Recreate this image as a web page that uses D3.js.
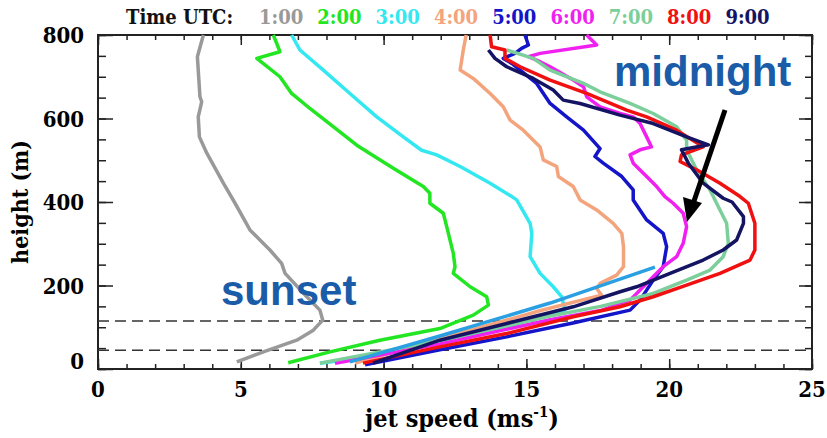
<!DOCTYPE html>
<html>
<head>
<meta charset="utf-8">
<script src="https://cdn.jsdelivr.net/npm/d3@7"></script>
<style>
body { margin: 0; background: #fff; }
svg { display: block; }
.tick-label { font-family: "DejaVu Serif Condensed", "DejaVu Serif", serif; font-stretch: condensed; font-weight: bold; }
</style>
</head>
<body>
<svg id="chart" width="827" height="438"></svg>
<script>
// profiles: [speed (m/s), height (m)]
var times = ["1:00", "2:00", "3:00", "4:00", "5:00", "6:00", "7:00", "8:00", "9:00"];
var colors = ["#999999", "#22e622", "#33e8f0", "#f4a47c", "#1414c8", "#f020f0", "#7ccf9a", "#f01010", "#141463"];

var p1 = [[3.69,800],[3.48,748],[3.57,652],[3.63,640],[3.51,604],[3.55,556],[3.81,517],[4.39,445],[4.80,397],[5.32,333],[6.02,285],[6.43,253],[6.55,229],[7.31,173],[7.77,141],[7.87,117],[7.54,93],[6.96,69],[5.79,41],[4.86,17]];
var p2 = [[6.14,800],[6.37,760],[5.56,744],[6.37,700],[6.78,660],[7.42,624],[8.47,568],[9.06,536],[10.34,481],[11.39,437],[11.62,421],[11.62,397],[12.09,373],[12.21,341],[12.44,277],[12.50,245],[12.44,229],[13.03,197],[13.61,173],[13.67,153],[13.14,129],[11.97,97],[9.87,69],[8.12,41],[6.66,15]];
var p3 = [[6.78,800],[7.07,764],[7.89,716],[8.82,660],[9.76,604],[10.69,556],[11.33,524],[11.86,513],[12.68,485],[13.73,445],[14.49,413],[14.66,405],[15.13,349],[15.19,325],[15.13,269],[15.48,229],[15.94,197],[16.24,173],[16.35,141],[14.3,100],[11.97,62],[9.6,30],[7.77,14]];
var p4 = [[12.89,800],[12.79,764],[12.68,716],[13.14,696],[13.73,660],[14.19,628],[14.43,596],[14.89,572],[15.48,532],[15.59,501],[16.06,485],[16.12,461],[16.64,437],[16.88,405],[17.46,381],[18.04,349],[18.34,325],[18.40,293],[18.40,245],[18.16,225],[17.58,205],[17.46,193],[17.63,177],[15.5,140],[11.97,72],[9.0,14]];
var p5 = [[14.95,800],[15.07,776],[14.83,768],[14.60,756],[14.19,744],[14.49,732],[14.78,716],[15.36,684],[15.83,636],[16.41,604],[17.00,572],[17.58,528],[17.40,509],[17.69,493],[18.34,461],[18.74,429],[18.74,405],[19.21,357],[19.79,325],[19.91,293],[19.79,245],[19.44,213],[19.21,189],[18.98,165],[18.63,141],[16.63,110],[14.31,77],[11.97,46],[9.35,10]];
var p6 = [[17.11,800],[17.46,776],[15.48,756],[15.07,748],[15.48,736],[15.83,724],[16.64,692],[17.00,676],[17.11,652],[17.58,628],[18.28,612],[18.74,604],[18.98,588],[19.21,556],[19.38,532],[18.98,525],[18.63,513],[18.74,493],[19.21,461],[19.56,437],[19.85,413],[20.14,397],[20.49,373],[20.61,341],[20.49,301],[20.26,269],[19.79,245],[19.44,221],[18.98,189],[18.63,165],[17.6,140],[15.83,118],[11.97,60],[8.30,14]];
var p7 = [[14.31,764],[15.24,744],[15.83,716],[17.00,684],[17.58,664],[18.63,636],[19.44,612],[20.26,580],[20.61,548],[20.61,525],[20.96,477],[21.43,429],[21.66,397],[22.01,349],[22.07,301],[21.89,269],[21.43,237],[20.61,213],[19.44,181],[17.6,150],[15.83,127],[11.97,68],[7.77,14]];
var p8 = [[13.73,800],[13.78,772],[14.25,764],[14.25,744],[14.78,724],[15.83,692],[17.11,660],[18.51,620],[19.21,604],[20.26,572],[21.19,532],[20.43,513],[20.38,497],[20.96,477],[21.78,445],[22.48,413],[22.77,397],[23.00,349],[23.00,285],[22.83,261],[21.78,229],[20.61,201],[19.44,173],[18.28,149],[16.64,125],[14.31,85],[11.97,53],[9.28,14]];
var p9 = [[13.67,764],[13.90,744],[14.31,724],[15.24,696],[15.94,668],[16.29,644],[16.88,636],[18.28,608],[19.44,588],[20.61,556],[21.37,537],[20.43,525],[20.67,493],[21.19,445],[21.89,409],[22.20,400],[22.60,365],[22.60,349],[22.36,309],[21.89,285],[21.19,261],[20.03,229],[18.86,197],[18.28,185],[16.64,149],[14.31,109],[11.97,69],[9.63,14]];
var fitLine = [[8.82,17],[11.97,79],[15.83,158],[19.50,244]];
var profiles = [p1, p2, p3, p4, p5, p6, p7, p8, p9];

var xTicks = [0, 5, 10, 15, 20, 25];
var yTicks = [0, 200, 400, 600, 800];
var layerTops = [45, 115];

var svg = d3.select("#chart"),
    margin = {top: 35, right: 15, bottom: 69, left: 98},
    width = +svg.attr("width") - margin.left - margin.right,
    height = +svg.attr("height") - margin.top - margin.bottom,
    group = svg.append("g").attr("transform", "translate(" + margin.left + "," + margin.top + ")");

var xscale = d3.scaleLinear().domain([0, 25]).range([0, width]);
var yscale = d3.scaleLinear().domain([0, 800]).range([height, 0]);

// axes, IDL style: ticks pointing in on every side
function tickAxis(axis, scale, values, len) {
    return axis(scale).tickValues(values).tickSize(-len).tickFormat("");
}
var minorX = d3.range(0, 26, 1), minorY = d3.range(0, 801, 50);

group.append("g").attr("transform", "translate(0," + height + ")").call(tickAxis(d3.axisBottom, xscale, minorX, 5));
group.append("g").attr("transform", "translate(0," + height + ")").call(tickAxis(d3.axisBottom, xscale, xTicks, 10));
group.append("g").call(tickAxis(d3.axisTop, xscale, minorX, 5));
group.append("g").call(tickAxis(d3.axisTop, xscale, xTicks, 10));
group.append("g").call(tickAxis(d3.axisLeft, yscale, minorY, 8));
group.append("g").call(tickAxis(d3.axisLeft, yscale, yTicks, 15));
group.append("g").attr("transform", "translate(" + width + ",0)").call(tickAxis(d3.axisRight, yscale, minorY, 7));
group.append("g").attr("transform", "translate(" + width + ",0)").call(tickAxis(d3.axisRight, yscale, yTicks, 13));
group.selectAll(".domain").remove();
group.selectAll(".tick line").attr("stroke", "#222").attr("stroke-width", 1.5);

group.append("rect")
    .attr("width", width).attr("height", height)
    .attr("fill", "none").attr("stroke", "#222").attr("stroke-width", 2);

// tick labels
group.append("g").selectAll("text").data(xTicks).enter().append("text")
    .attr("class", "tick-label")
    .attr("x", function(d) { return xscale(d); })
    .attr("y", height + 28)
    .attr("text-anchor", "middle")
    .attr("font-size", 22)
    .text(function(d) { return d; });
group.append("g").selectAll("text").data(yTicks).enter().append("text")
    .attr("class", "tick-label")
    .attr("x", -14)
    .attr("y", function(d) { return d == 0 ? yscale(d) + 0 : yscale(d) + 8; })
    .attr("text-anchor", "end")
    .attr("font-size", 22)
    .text(function(d) { return d; });

// axis titles
var xt = svg.append("text").attr("class", "tick-label")
    .attr("x", 462).attr("y", 427)
    .attr("text-anchor", "middle").attr("font-size", 25);
xt.append("tspan").text("jet speed (ms");
xt.append("tspan").attr("dy", -10).attr("font-size", 15).text("-1");
xt.append("tspan").attr("dy", 10).text(")");
svg.append("text").attr("class", "tick-label")
    .attr("transform", "translate(28,202) rotate(-90)")
    .attr("text-anchor", "middle").attr("font-size", 23)
    .text("height (m)");

// dashed layer lines
group.append("g").selectAll("line").data(layerTops).enter().append("line")
    .attr("x1", 0).attr("x2", width)
    .attr("y1", function(d) { return yscale(d); })
    .attr("y2", function(d) { return yscale(d); })
    .attr("stroke", "#333").attr("stroke-width", 1.6)
    .attr("stroke-dasharray", "11,6");

var line = d3.line()
    .x(function(d) { return xscale(d[0]); })
    .y(function(d) { return yscale(d[1]); })
    .curve(d3.curveLinear);

var plot = group.append("g");
plot.selectAll("path.profile")
    .data(profiles)
    .enter().append("path")
    .attr("class", "profile")
    .attr("d", line)
    .attr("fill", "none")
    .attr("stroke", function(d, i) { return colors[i]; })
    .attr("stroke-width", 3.5)
    .attr("stroke-linejoin", "round");
plot.append("path")
    .attr("d", line(fitLine))
    .attr("fill", "none")
    .attr("stroke", "#2a9fe2")
    .attr("stroke-width", 3.5);

// legend
var legend = svg.append("g").attr("class", "tick-label").attr("font-size", 20);
legend.append("text").attr("x", 126).attr("y", 24).attr("fill", "#111").text("Time UTC:");
legend.selectAll("text.t").data(times).enter().append("text")
    .attr("class", "t")
    .attr("x", function(d, i) { return 259 + i * 58.3; })
    .attr("y", 24)
    .attr("fill", function(d, i) { return colors[i]; })
    .text(function(d) { return d; });

// annotations
var ann = svg.append("g")
    .attr("font-family", "Liberation Sans, Arial, sans-serif")
    .attr("font-weight", "bold").attr("font-size", 42).attr("fill", "#1a5ca8");
ann.append("text").attr("x", 614).attr("y", 86).text("midnight");
ann.append("text").attr("x", 221).attr("y", 305).text("sunset");

svg.append("line")
    .attr("x1", 725).attr("y1", 110).attr("x2", 693).attr("y2", 204)
    .attr("stroke", "#000").attr("stroke-width", 5);
svg.append("path")
    .attr("d", "M687,222 L683,197 L702,203 Z")
    .attr("fill", "#000");
</script>
</body>
</html>
